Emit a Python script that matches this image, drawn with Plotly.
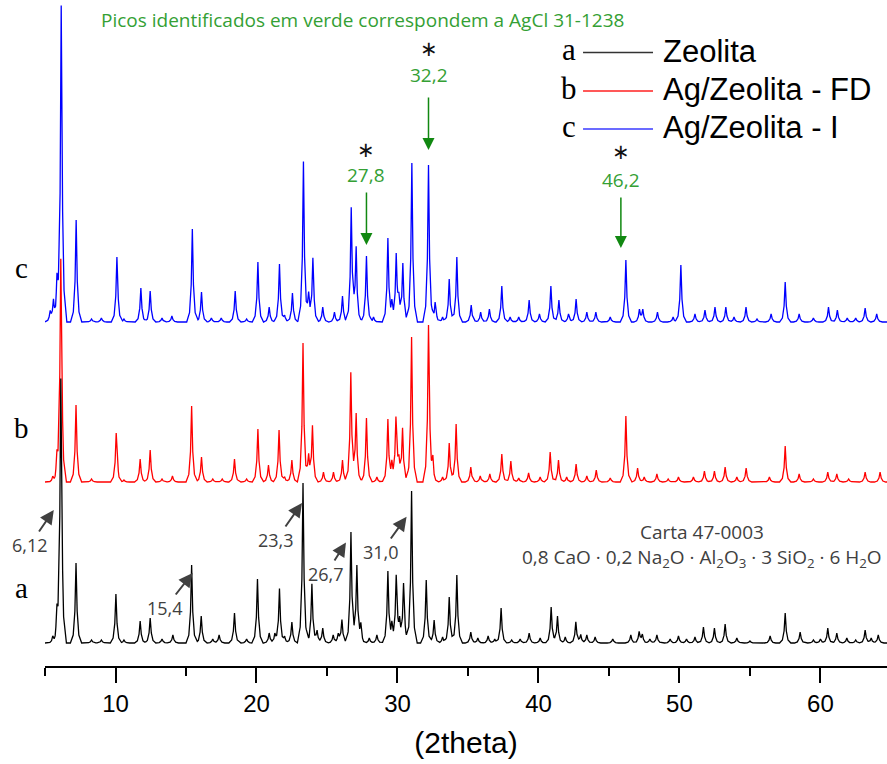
import numpy as np
import plotly.graph_objects as go

# ---- Peak tables (2theta in degrees, intensity in arbitrary units) ----
theta_a = [5.55, 5.85, 6.12, 7.2, 8.3, 9.0, 10.03, 10.6, 11.75, 12.46, 13.3, 14.07, 15.4, 16.08,
           16.9, 17.35, 18.44, 19.3, 20.07, 20.9, 21.3, 21.63, 22.0, 22.51, 23.3, 23.93, 24.3,
           24.7, 25.44, 25.8, 26.06, 26.7, 27.12, 27.4, 28.0, 28.54, 29.32, 29.6, 29.91, 30.15,
           30.43, 31.0, 32.04, 32.6, 33.2, 33.67, 34.21, 35.2, 35.7, 36.43, 36.9, 37.35, 38.1,
           38.7, 39.34, 40.12, 40.9, 41.35, 41.9, 42.65, 43.0, 43.43, 44.02, 45.27, 46.55, 47.14,
           47.37, 47.9, 48.4, 49.34, 49.93, 50.5, 51.1, 51.7, 52.48, 53.24, 54.07, 55.0, 56.43,
           57.5, 58.56, 59.5, 60.0, 60.52, 61.16, 61.87, 62.5, 63.17, 63.6, 64.1]
counts_a = [6, 22, 263, 80, 3, 3, 49, 3, 22, 25, 4, 8, 78, 27,
            4, 8, 30, 4, 64, 10, 8, 54, 6, 21, 160, 59, 12,
            15, 8, 8, 23, 111, 77, 16, 5, 8, 71, 15, 66, 18,
            59, 152, 63, 23, 6, 46, 68, 11, 5, 7, 4, 35, 3,
            4, 10, 5, 36, 27, 6, 21, 8, 8, 6, 4, 8, 11,
            8, 4, 8, 4, 7, 4, 6, 16, 15, 19, 5, 2, 7,
            30, 11, 3, 4, 15, 10, 5, 3, 13, 5, 8]

theta_b = [5.55, 5.85, 6.12, 7.2, 8.3, 10.05, 10.6, 11.75, 12.46, 13.3, 14.04, 15.4, 16.1, 16.9,
           17.57, 18.44, 19.3, 20.1, 20.85, 21.6, 22.0, 22.51, 23.3, 23.7, 23.97, 24.75, 25.46,
           26.1, 26.69, 27.07, 27.8, 28.54, 29.32, 29.6, 29.89, 30.1, 30.36, 31.0, 32.2, 32.51,
           33.2, 33.67, 34.16, 35.2, 35.87, 36.55, 37.4, 38.04, 38.6, 39.3, 40.12, 40.83, 41.42,
           42.0, 42.67, 43.43, 44.1, 45.09, 46.2, 47.03, 47.5, 48.4, 49.2, 49.93, 50.99, 51.77,
           52.48, 53.24, 54.07, 54.73, 56.38, 57.5, 58.49, 59.5, 60.52, 61.16, 62.0, 63.17, 64.23]
counts_b = [5, 18, 222, 77, 3, 49, 2, 23, 32, 3, 6, 76, 25, 3,
            3, 23, 3, 53, 17, 52, 5, 22, 139, 25, 55, 10, 10,
            22, 109, 68, 64, 5, 62, 15, 63, 18, 53, 145, 156, 20,
            5, 39, 58, 15, 6, 8, 28, 21, 4, 9, 5, 30, 22,
            5, 18, 6, 12, 4, 66, 14, 5, 8, 3, 5, 5, 11,
            11, 15, 5, 14, 5, 36, 8, 3, 10, 8, 3, 10, 10]

theta_c = [5.37, 5.6, 5.85, 6.15, 7.21, 8.3, 9.0, 10.1, 10.6, 11.8, 12.46, 13.3, 14.0, 15.45,
           16.1, 16.8, 17.5, 18.49, 19.3, 20.1, 20.9, 21.63, 22.0, 22.55, 23.33, 23.7, 24.0,
           24.7, 25.53, 26.1, 26.72, 27.07, 27.8, 28.3, 29.32, 29.6, 29.91, 30.1, 30.38, 31.02,
           32.2, 32.67, 33.2, 33.67, 34.21, 35.23, 35.9, 36.52, 37.4, 37.99, 38.6, 39.34, 40.07,
           40.88, 41.45, 42.13, 42.67, 43.43, 44.07, 45.09, 46.2, 47.16, 47.4, 48.44, 49.55,
           50.1, 51.1, 51.81, 52.52, 53.29, 53.87, 54.72, 55.5, 56.5, 57.5, 58.49, 59.5, 60.57,
           61.2, 61.9, 62.5, 63.17, 63.99]
counts_c = [10, 20, 32, 315, 102, 3, 4, 65, 3, 34, 31, 4, 6, 93,
            30, 4, 4, 31, 3, 60, 15, 58, 6, 29, 160, 25, 63,
            15, 10, 26, 113, 73, 66, 5, 83, 15, 66, 18, 58, 159,
            157, 20, 5, 43, 65, 17, 10, 13, 36, 5, 5, 22, 8,
            36, 22, 8, 23, 10, 10, 5, 62, 12, 12, 10, 5,
            57, 8, 12, 15, 15, 5, 15, 3, 8, 40, 8, 4, 15,
            12, 4, 4, 14, 8]

sample_names = ["Zeolita", "Ag/Zeolita - FD", "Ag/Zeolita - I"]
sample_letters = ["a", "b", "c"]
sample_colors = ["#000000", "#ff0000", "#0000ff"]
legend_colors = ["#333333", "#ff2020", "#3a3aff"]
stack_offsets = [23, 184, 344]          # vertical shift of each pattern

tick_values = [10, 20, 30, 40, 50, 60]
minor_values = [5, 15, 25, 35, 45, 55]
x_range = [5, 64.72]
y_range = [0, 666]

# line profile used to draw each reflection (offset in degrees, fraction of peak height)
profile_dx = np.array([-0.4, -0.2, -0.08, 0.0, 0.08, 0.2, 0.4])
profile_fr = np.array([0.0, 0.1, 0.4, 1.0, 0.4, 0.1, 0.0])


def pattern(pos, hgt):
    pos = np.asarray(pos, float)
    hgt = np.asarray(hgt, float)
    xs = np.unique(np.concatenate([(pos[:, None] + profile_dx[None, :]).ravel(), x_range]))
    xs = xs[(xs >= x_range[0]) & (xs <= x_range[1])]
    ys = np.zeros_like(xs)
    for p, h in zip(pos, hgt):
        ys += h * np.interp(xs - p, profile_dx, profile_fr, left=0.0, right=0.0)
    return xs, ys


patterns = [(theta_a, counts_a), (theta_b, counts_b), (theta_c, counts_c)]

fig = go.Figure()
# draw c first, then b, then a on top
for i in [2, 1, 0]:
    xs, ys = pattern(*patterns[i])
    fig.add_trace(go.Scatter(x=xs, y=ys + stack_offsets[i], mode="lines",
                             line=dict(color=sample_colors[i], width=1.3),
                             name=sample_names[i], showlegend=False, hoverinfo="skip"))

annotations = []
shapes = []

sans = "Open Sans"
arial = "Liberation Sans"
serif = "Liberation Serif"
green_txt = "#34a034"
green_arrow = "#118811"
gray = "#404040"


def note(**kw):
    kw.setdefault("xanchor", "center")
    kw.setdefault("yanchor", "middle")
    kw.setdefault("showarrow", False)
    annotations.append(kw)


# header note
note(xref="paper", yref="paper", x=0.3765, y=0.97,
     text="Picos identificados em verde correspondem a AgCl 31-1238",
     font=dict(family=sans, size=19, color=green_txt))

# AgCl reflections (marked on pattern c): label above, arrow pointing down to the peak
agcl_peaks = [27.8, 32.2, 46.2]
agcl_head_y = [421, 516, 418]
agcl_label_dy = [-70, -75, -68]
agcl_gap = [3, 8, 3]
agcl_star_y = [516, 617, 514]
agcl_xshift = [0, 0, -5]
for p, hy, dy, gap, sy, xs_ in zip(agcl_peaks, agcl_head_y, agcl_label_dy, agcl_gap,
                                   agcl_star_y, agcl_xshift):
    note(x=p, y=hy, xref="x", yref="y", xshift=xs_,
         text=f"{p:.1f}".replace(".", ","), font=dict(family=sans, size=19, color=green_txt),
         showarrow=True, ax=0, ay=dy, arrowhead=2, arrowsize=1.6, arrowwidth=1.5,
         arrowside="end+start", startarrowhead=0, startstandoff=gap,
         arrowcolor=green_arrow, standoff=0)
    note(x=p, y=sy, xref="x", yref="y", xshift=xs_, text="\u2217",
         font=dict(family="DejaVu Sans", size=21, color="#111111"))

# zeolite reflections (marked on pattern a): label below-left, arrow up to the peak
zeo_peaks = [6.12, 15.4, 23.3, 26.7, 31.0]
zeo_labels = ["6,12", "15,4", "23,3", "26,7", "31,0"]
zeo_head_y = [156, 93, 163, 123.5, 149.3]
zeo_head_dx = [-7, 1, -1, -5, -5]
zeo_text_ax = [-24, -27.5, -26, -20, -25.5]
zeo_text_ay = [35, 35, 37, 31.5, 35.3]
for p, lab, hy, hdx, tax, tay in zip(zeo_peaks, zeo_labels, zeo_head_y, zeo_head_dx,
                                      zeo_text_ax, zeo_text_ay):
    note(x=p, y=hy, xref="x", yref="y", xshift=hdx, text=lab,
         font=dict(family=sans, size=18, color=gray),
         showarrow=True, ax=tax, ay=tay, arrowhead=2, arrowsize=1.4, arrowwidth=2,
         arrowcolor=gray, standoff=0)

# reference card
note(xref="paper", yref="paper", x=0.780, y=0.2012, text="Carta 47-0003",
     font=dict(family=sans, size=19, color=gray))
note(xref="paper", yref="paper", x=0.780, y=0.1622,
     text="0,8 CaO · 0,2 Na<sub>2</sub>O · Al<sub>2</sub>O<sub>3</sub> · "
          "3 SiO<sub>2</sub> · 6 H<sub>2</sub>O",
     font=dict(family=sans, size=19, color=gray))

# pattern letters on the left
letter_y = [0.1171, 0.3574, 0.5976]
for i in range(3):
    note(xref="paper", yref="paper", x=-0.028, y=letter_y[i], text=sample_letters[i],
         font=dict(family=serif, size=29, color="#000000"))

# key
key_y = [0.9212, 0.8634, 0.8063]
for i in range(3):
    note(xref="paper", yref="paper", x=0.6223, y=key_y[i] + 0.004, text=sample_letters[i],
         font=dict(family=serif, size=31, color="#000000"))
    shapes.append(dict(type="line", xref="paper", yref="paper", x0=0.639, x1=0.7221,
                       y0=key_y[i], y1=key_y[i], line=dict(color=legend_colors[i], width=1.5)))
    note(xref="paper", yref="paper", x=0.7316, y=key_y[i] + 0.002, xanchor="left",
         text=sample_names[i], font=dict(family=arial, size=31, color="#000000"))

fig.update_layout(
    width=887, height=764,
    margin=dict(l=45, r=0, t=0, b=98, pad=0),
    paper_bgcolor="white", plot_bgcolor="white",
    annotations=annotations, shapes=shapes,
    showlegend=False,
    xaxis=dict(range=x_range, tickvals=tick_values, ticks="outside", ticklen=15, tickwidth=2,
               tickcolor="black", showline=True, linewidth=2, linecolor="black",
               showgrid=False, zeroline=False,
               tickfont=dict(family=arial, size=24, color="black"),
               minor=dict(tickvals=minor_values, ticks="outside", ticklen=8, tickwidth=2,
                          tickcolor="black", showgrid=False),
               title=dict(text="(2theta)", font=dict(family=arial, size=30, color="black"),
                          standoff=16)),
    yaxis=dict(range=y_range, visible=False, showgrid=False, zeroline=False),
)

fig.write_html("out.html")
